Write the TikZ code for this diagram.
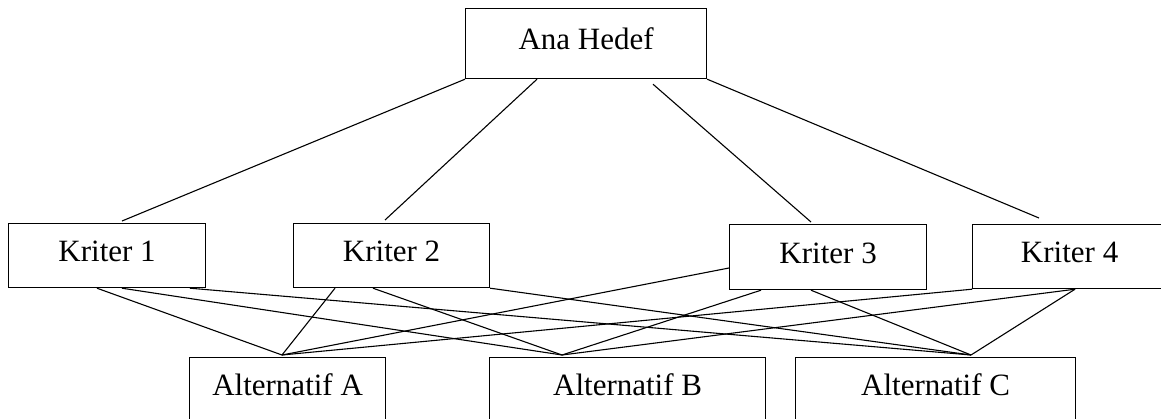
\documentclass[tikz,border=0pt]{standalone}
\usepackage{fontspec}
\setmainfont{Liberation Serif}
\usetikzlibrary{calc}
\begin{document}
\begin{tikzpicture}[x=1pt,y=-1pt,
  box/.style={draw, line width=1.2pt, rectangle, inner sep=0pt, anchor=north west,
    font=\fontsize{31}{37}\selectfont, text height=20pt, text depth=7.4pt},
  link/.style={line width=1.1pt}]
\useasboundingbox (0,0) rectangle (1161,418);
\begin{scope}
\clip (0,0) rectangle (1161,418);
% nodes
\node[box, minimum width=241pt, minimum height=70pt] (ana) at (465,8) {Ana Hedef};
\node[box, minimum width=197pt, minimum height=64pt] (k1) at (8,223) {Kriter 1};
\node[box, minimum width=196pt, minimum height=64pt] (k2) at (293,223) {Kriter 2};
\node[box, minimum width=197pt, minimum height=65pt] (k3) at (729,224) {Kriter 3};
\node[box, minimum width=194pt, minimum height=64pt] (k4) at (972,224) {Kriter 4};
\node[box, minimum width=196pt, minimum height=64pt] (a) at (189,357) {Alternatif A};
\node[box, minimum width=276pt, minimum height=64pt] (b) at (489,357) {Alternatif B};
\node[box, minimum width=280pt, minimum height=64pt] (c) at (795,357) {Alternatif C};
% attachment points
\coordinate (anaA) at (ana.south west);
\coordinate (anaB) at ($(ana.south west)+(72,0)$);
\coordinate (anaC) at ($(ana.south west)+(188,5)$);
\coordinate (anaD) at (ana.south east);
\coordinate (k1t) at ($(k1.north west)+(114,-2)$);
\coordinate (k2t) at ($(k2.north west)+(92,-3)$);
\coordinate (k3t) at ($(k3.north west)+(82,-2)$);
\coordinate (k4t) at ($(k4.north west)+(67,-6)$);
\coordinate (k1a) at ($(k1.south west)+(89,0)$);
\coordinate (k1b) at ($(k1.south west)+(114,0)$);
\coordinate (k1c) at ($(k1.south west)+(182,0)$);
\coordinate (k2a) at ($(k2.south west)+(42,0)$);
\coordinate (k2b) at ($(k2.south west)+(80,0)$);
\coordinate (k2c) at (k2.south east);
\coordinate (k3a) at ($(k3.north west)+(0,44)$);
\coordinate (k3b) at ($(k3.south west)+(32,0)$);
\coordinate (k3c) at ($(k3.south west)+(82,0)$);
\coordinate (k4a) at (k4.south west);
\coordinate (k4b) at ($(k4.south west)+(103,0)$);
\coordinate (at) at ($(a.north west)+(93,-2)$);
\coordinate (bt) at ($(b.north west)+(73,-2)$);
\coordinate (ct) at ($(c.north west)+(176,-2)$);
% connectors
\draw[link] (anaA) -- (k1t);
\draw[link] (anaB) -- (k2t);
\draw[link] (anaC) -- (k3t);
\draw[link] (anaD) -- (k4t);
\draw[link] (k1a) -- (at);
\draw[link] (k1b) -- (bt);
\draw[link] (k1c) -- (ct);
\draw[link] (k2a) -- (at);
\draw[link] (k2b) -- (bt);
\draw[link] (k2c) -- (ct);
\draw[link] (k3a) -- (at);
\draw[link] (k3b) -- (bt);
\draw[link] (k3c) -- (ct);
\draw[link] (k4a) -- (at);
\draw[link] (k4b) -- (bt);
\draw[link] (k4b) -- (ct);
\end{scope}
\end{tikzpicture}
\end{document}
